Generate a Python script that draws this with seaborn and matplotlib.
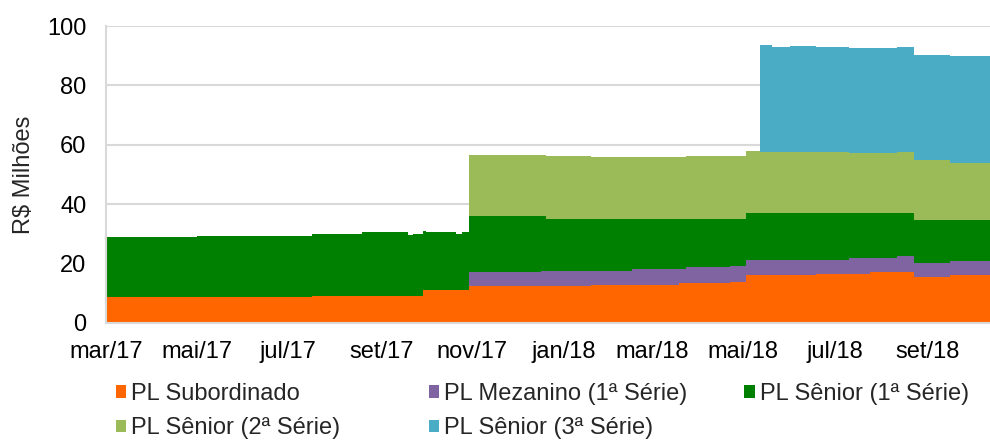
"""PL evolution by tranche - stacked area chart."""
import pandas as pd
import numpy as np
import matplotlib
matplotlib.use("Agg")
import matplotlib.pyplot as plt
import matplotlib.dates as mdates
import matplotlib.ticker as ticker
import seaborn as sns

sns.set_theme(style="white")
plt.rcParams["font.family"] = ["Liberation Sans", "DejaVu Sans"]

# ── data (R$ millions, values per tranche at each change date) ───────────────
DATES = [
    "2017-03-01", "2017-05-01", "2017-07-17", "2017-08-19", "2017-09-19",
    "2017-09-22", "2017-09-29", "2017-10-01", "2017-10-21", "2017-10-25",
    "2017-10-30", "2017-12-17", "2017-12-20", "2018-01-19", "2018-02-16",
    "2018-03-19", "2018-03-24", "2018-04-22", "2018-05-03", "2018-05-12",
    "2018-05-20", "2018-06-01", "2018-06-19", "2018-07-11", "2018-07-25",
    "2018-08-12", "2018-08-23", "2018-09-16", "2018-10-13",
]
SUBORDINADO = [8.6, 8.6, 9.1, 9.1, 9.1, 9.1, 11.2, 11.2, 11.2, 11.2,
               12.4, 12.4, 12.4, 12.7, 12.7, 13.3, 13.3, 13.8, 16.1, 16.1,
               16.1, 16.1, 16.6, 16.6, 17.2, 17.2, 15.5, 16.1, 16.1]
MEZANINO_1 = [0, 0, 0, 0, 0, 0, 0, 0, 0, 0,
              4.7, 5.1, 5.1, 4.8, 5.5, 4.9, 5.6, 5.5, 5.2, 5.2,
              5.2, 5.2, 4.7, 5.4, 4.8, 5.3, 4.7, 4.8, 4.8]
SENIOR_1 = [20.4, 20.8, 20.8, 21.4, 20.4, 21.0, 19.7, 19.4, 18.9, 19.4,
            18.8, 18.4, 17.6, 17.6, 16.9, 16.9, 16.2, 15.8, 15.9, 15.9,
            15.9, 15.9, 15.9, 15.2, 15.2, 14.7, 14.4, 13.7, 13.7]
SENIOR_2 = [0, 0, 0, 0, 0, 0, 0, 0, 0, 0,
            20.6, 20.6, 21.1, 20.9, 20.9, 20.9, 21.1, 21.3, 20.9, 20.4,
            20.4, 20.4, 20.4, 20.1, 20.1, 20.4, 20.2, 19.4, 19.4]
SENIOR_3 = [0, 0, 0, 0, 0, 0, 0, 0, 0, 0,
            0, 0, 0, 0, 0, 0, 0, 0, 0, 35.9,
            35.4, 35.6, 35.3, 35.3, 35.3, 35.4, 35.5, 36.0, 36.0]

SERIES = [
    ("PL Subordinado", SUBORDINADO, "#FF6600"),
    ("PL Mezanino (1ª Série)", MEZANINO_1, "#8064A2"),
    ("PL Sênior (1ª Série)", SENIOR_1, "#008000"),
    ("PL Sênior (2ª Série)", SENIOR_2, "#9BBB59"),
    ("PL Sênior (3ª Série)", SENIOR_3, "#4BACC6"),
]
MESES = ["jan", "fev", "mar", "abr", "mai", "jun",
         "jul", "ago", "set", "out", "nov", "dez"]

df = pd.DataFrame({"date": pd.to_datetime(DATES)})
for name, vals, _ in SERIES:
    df[name] = vals

# ── plot ──────────────────────────────────────────────────────────────────────
GRID = "#D9D9D9"
FS = 17
fig = plt.figure(figsize=(9.9, 4.43), dpi=100)
ax = fig.add_axes([0.107, 0.271, 0.893, 0.670])

handles = {}
base = np.zeros(len(df))
for name, _, color in SERIES:
    top = base + df[name].to_numpy()
    handles[name] = ax.fill_between(df["date"], base, top, step="post",
                                    color=color, linewidth=0, label=name, zorder=2)
    base = top

ax.set_xlim(df["date"].iloc[0], df["date"].iloc[-1])
ax.set_ylim(0, 100)
ax.yaxis.set_major_locator(ticker.MultipleLocator(20))
ax.yaxis.grid(True, color=GRID, linewidth=1.5, zorder=0)
ax.set_axisbelow(True)

ax.xaxis.set_major_locator(mdates.MonthLocator(bymonth=[1, 3, 5, 7, 9, 11]))
ax.xaxis.set_major_formatter(ticker.FuncFormatter(
    lambda v, _: f"{MESES[mdates.num2date(v).month - 1]}/{mdates.num2date(v):%y}"))

for side in ["top", "right"]:
    ax.spines[side].set_visible(False)
for side in ["left", "bottom"]:
    ax.spines[side].set_color(GRID)
    ax.spines[side].set_linewidth(1.5)
ax.tick_params(axis="both", which="major", labelsize=FS, colors="black",
               length=6, width=1.2, color=GRID, direction="out")
ax.tick_params(axis="y", pad=8)
ax.tick_params(axis="x", pad=7)
ax.set_ylabel("R$ Milhões", fontsize=FS, labelpad=9)

# legend laid out as fixed columns, like the original
columns = [
    (0.117, ["PL Subordinado", "PL Sênior (2ª Série)"]),
    (0.433, ["PL Mezanino (1ª Série)", "PL Sênior (3ª Série)"]),
    (0.752, ["PL Sênior (1ª Série)"]),
]
for x0, names in columns:
    fig.legend([handles[k] for k in names], names, frameon=False,
               loc="upper left", bbox_to_anchor=(x0, 0.135), fontsize=FS,
               handlelength=0.45, handleheight=0.45, handletextpad=0.2,
               labelspacing=0.52, borderaxespad=0, borderpad=0)

fig.savefig("out.png", dpi=100)
